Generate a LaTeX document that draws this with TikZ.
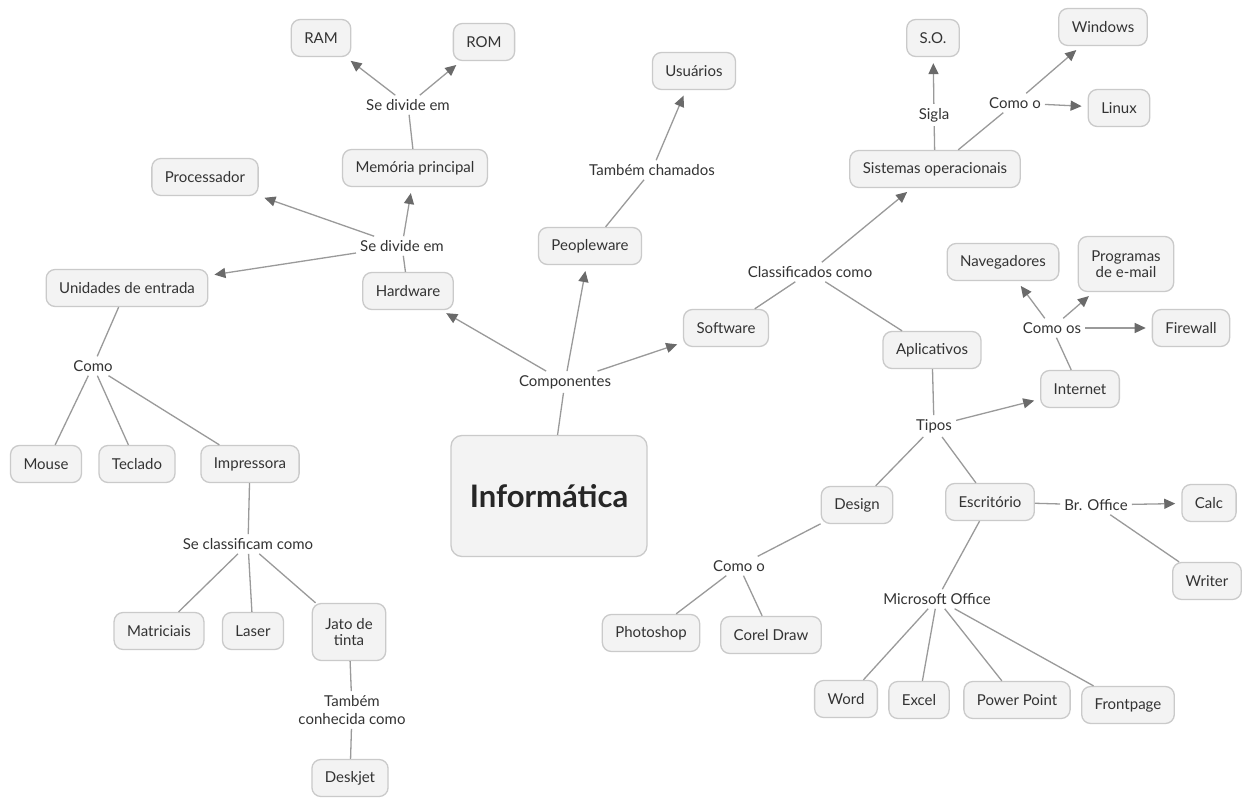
\documentclass[tikz,border=0pt]{standalone}
\usepackage{fontspec}
\setmainfont{Lato}
\usetikzlibrary{arrows.meta}
\definecolor{boxfill}{HTML}{F3F3F3}
\definecolor{boxline}{HTML}{CACACA}
\definecolor{txt}{HTML}{333333}
\definecolor{lin}{HTML}{9A9A9A}
\definecolor{tipc}{HTML}{6A6A6A}
\begin{document}
\begin{tikzpicture}[x=1pt,y=-1pt,
  concept/.style={draw=boxline, fill=boxfill, rounded corners=9pt, line width=1.3pt,
    minimum height=37pt, inner xsep=13pt, text=txt, align=center,
    font=\fontsize{15}{16}\selectfont},
  link/.style={text=txt, inner sep=4pt, align=center, font=\fontsize{15}{17}\selectfont},
  con/.style={draw=lin, line width=1.3pt},
  arr/.style={con, -{Triangle[length=11pt,width=10pt,color=tipc]}, shorten >=6pt}
]
\useasboundingbox (0,0) rectangle (1243,799);
\fill[white] (0,0) rectangle (1243,799);

% concepts
\node[concept, minimum width=196pt, minimum height=121pt, rounded corners=11pt,
  font=\fontsize{31}{34}\bfseries\selectfont, text=black!85] (info) at (549,496) {Informática};
\node[concept] (ram) at (321,38) {RAM};
\node[concept] (rom) at (484,42) {ROM};
\node[concept] (mem) at (415,168) {Memória principal};
\node[concept] (proc) at (205,177) {Processador};
\node[concept] (unid) at (127,288) {Unidades de entrada};
\node[concept] (hard) at (408,291) {Hardware};
\node[concept] (usu) at (694,71) {Usuários};
\node[concept] (peo) at (590,246) {Peopleware};
\node[concept] (so) at (933,38) {S.O.};
\node[concept] (win) at (1103,27) {Windows};
\node[concept] (linux) at (1119,108) {Linux};
\node[concept] (sist) at (935,169) {Sistemas operacionais};
\node[concept] (nav) at (1003,262) {Navegadores};
\node[concept, minimum height=55pt] (prog) at (1126,264) {Programas\\de e-mail};
\node[concept] (soft) at (726,328) {Software};
\node[concept] (apl) at (932,350) {Aplicativos};
\node[concept] (fire) at (1191,328) {Firewall};
\node[concept] (inter) at (1080,389) {Internet};
\node[concept] (mouse) at (46,464) {Mouse};
\node[concept] (tecl) at (137,464) {Teclado};
\node[concept] (impr) at (250,464) {Impressora};
\node[concept] (design) at (857,505) {Design};
\node[concept] (escr) at (990,502) {Escritório};
\node[concept] (calc) at (1209,503) {Calc};
\node[concept] (writer) at (1207,581) {Writer};
\node[concept] (matr) at (159,631) {Matriciais};
\node[concept] (laser) at (253,631) {Laser};
\node[concept, minimum height=57pt] (jato) at (349,632) {Jato de\\tinta};
\node[concept] (photo) at (651,633) {Photoshop};
\node[concept] (corel) at (771,635) {Corel Draw};
\node[concept] (word) at (846,699) {Word};
\node[concept] (excel) at (919,700) {Excel};
\node[concept] (pp) at (1017,700) {Power Point};
\node[concept] (front) at (1128,705) {Frontpage};
\node[concept] (desk) at (350,778) {Deskjet};

% linking phrases
\node[link] (l1) at (408,105) {Se divide em};
\node[link] (l2) at (402,246) {Se divide em};
\node[link] (l3) at (652,170) {Também chamados};
\node[link] (sigla) at (934,115) {Sigla};
\node[link] (l4) at (1015,103) {Como o};
\node[link] (l5) at (810,272) {Classificados como};
\node[link] (l6) at (1052,328) {Como os};
\node[link] (comp) at (565,382) {Componentes};
\node[link] (l7) at (93,366) {Como};
\node[link] (tipos) at (934,426) {Tipos};
\node[link] (l8) at (1096,505) {Br. Office};
\node[link] (l9) at (248,544) {Se classificam como};
\node[link] (l10) at (739,566) {Como o};
\node[link] (msoff) at (937,599) {Microsoft Office};
\node[link, font=\fontsize{15}{18}\selectfont] (l11) at (352,710) {Também\\conhecida como};

% connectors
\draw[con] (info) -- (comp);
\draw[arr] (comp) -- (hard);
\draw[arr] (comp) -- (peo);
\draw[arr] (comp) -- (soft);

\draw[con] (hard) -- (l2);
\draw[arr] (l2) -- (mem);
\draw[arr] (l2) -- (proc);
\draw[arr] (l2) -- (unid);
\draw[con] (mem) -- (l1);
\draw[arr] (l1) -- (ram);
\draw[arr] (l1) -- (rom);

\draw[con] (unid) -- (l7);
\draw[con] (l7) -- (mouse);
\draw[con] (l7) -- (tecl);
\draw[con] (l7) -- (impr);
\draw[con] (impr) -- (l9);
\draw[con] (l9) -- (matr);
\draw[con] (l9) -- (laser);
\draw[con] (l9) -- (jato);
\draw[con] (jato) -- (l11);
\draw[con] (l11) -- (desk);

\draw[con] (peo) -- (l3);
\draw[arr] (l3) -- (usu);

\draw[con] (soft) -- (l5);
\draw[arr] (l5) -- (sist);
\draw[con] (l5) -- (apl);
\draw[con] (sist) -- (sigla);
\draw[arr] (sigla) -- (so);
\draw[con] (sist) -- (l4);
\draw[arr] (l4) -- (win);
\draw[arr] (l4) -- (linux);

\draw[con] (apl) -- (tipos);
\draw[arr] (tipos) -- (inter);
\draw[con] (tipos) -- (design);
\draw[con] (tipos) -- (escr);
\draw[con] (inter) -- (l6);
\draw[arr] (l6) -- (nav);
\draw[arr] (l6) -- (prog);
\draw[arr] (l6) -- (fire);

\draw[con] (design) -- (l10);
\draw[con] (l10) -- (photo);
\draw[con] (l10) -- (corel);
\draw[con] (escr) -- (l8);
\draw[arr] (l8) -- (calc);
\draw[con] (l8) -- (writer);
\draw[con] (escr) -- (msoff);
\draw[con] (msoff) -- (word);
\draw[con] (msoff) -- (excel);
\draw[con] (msoff) -- (pp);
\draw[con] (msoff) -- (front);
\end{tikzpicture}
\end{document}
